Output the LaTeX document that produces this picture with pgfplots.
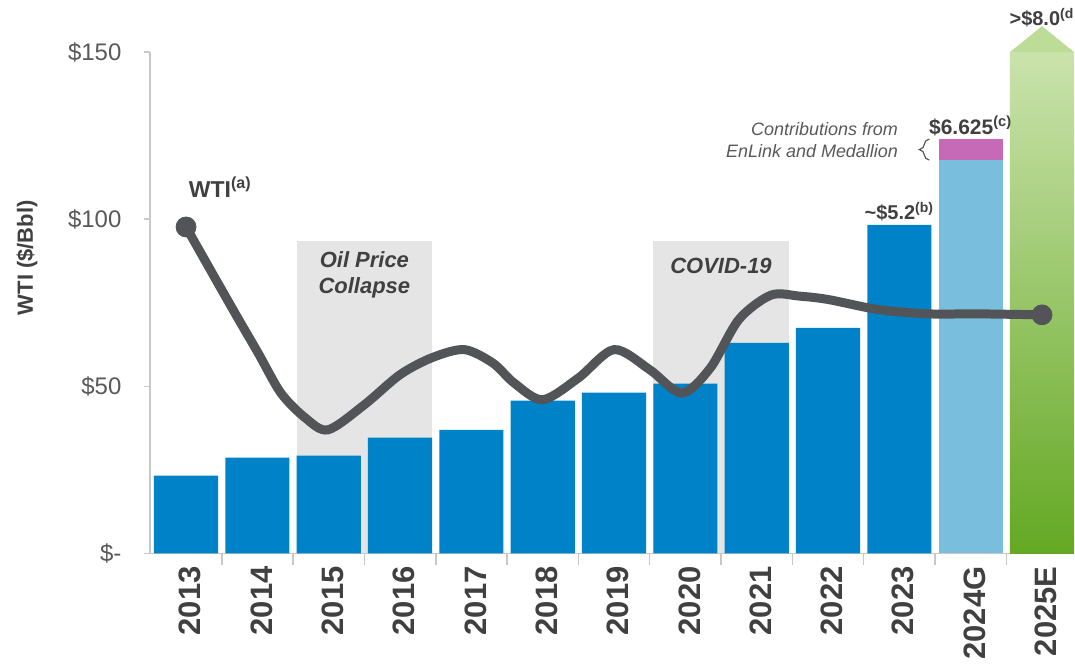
\documentclass[border=0pt]{standalone}
\usepackage{pgfplots}
\pgfplotsset{compat=1.18}
\usepackage{fontspec}
\setmainfont{Liberation Sans}
\usetikzlibrary{decorations.pathreplacing}
\definecolor{wblue}{RGB}{0,130,200}
\definecolor{lblue}{RGB}{122,190,222}
\definecolor{pinkc}{RGB}{198,105,182}
\definecolor{gtop}{RGB}{202,227,172}
\definecolor{gbot}{RGB}{100,168,35}
\definecolor{garrow}{RGB}{188,220,152}
\definecolor{shadegray}{RGB}{229,229,229}
\definecolor{linegray}{RGB}{82,84,88}
\definecolor{darktext}{RGB}{64,64,64}
\definecolor{ticktext}{RGB}{89,89,89}
\definecolor{axisgray}{RGB}{200,200,200}
\begin{document}
\begin{tikzpicture}
\begin{axis}[
  scale only axis, width=462.5pt, height=251pt,
  xmin=-0.5, xmax=12.45, ymin=0, ymax=150,
  clip=false,
  axis x line*=bottom, axis y line*=left,
  axis line style={draw=axisgray, line width=0.9pt},
  tick align=outside,
  xtick={0,...,12},
  xticklabels={2013,2014,2015,2016,2017,2018,2019,2020,2021,2022,2023,2024G,2025E},
  major x tick style={draw=none},
  minor xtick={0.5,1.5,...,11.5},
  minor x tick style={draw=axisgray, line width=0.8pt},
  minor tick length=6pt,
  major tick length=3pt,
  y tick style={draw=axisgray, line width=0.8pt},
  ytick={0,50,100,150},
  yticklabels={\$-,\$50,\$100,\$150},
  yticklabel style={font=\fontsize{12}{14}\selectfont, text=ticktext, xshift=-8pt},
  xticklabel style={rotate=90, anchor=east, font=\fontsize{15.5}{18}\selectfont\bfseries, text=darktext, yshift=-2pt},
  ylabel={WTI (\$/Bbl)},
  every axis y label/.style={at={(axis description cs:-0.1335,0.59)}, anchor=center, rotate=90, font=\fontsize{11}{13}\selectfont\bfseries, text=darktext},
]
% shaded periods
\addplot[fill=shadegray, draw=none] coordinates {(1.55,0) (1.55,93.5) (3.45,93.5) (3.45,0)} --cycle;
\addplot[fill=shadegray, draw=none] coordinates {(6.55,0) (6.55,93.5) (8.45,93.5) (8.45,0)} --cycle;
% bars
\addplot[ybar, bar width=0.9, bar shift=0pt, fill=wblue, draw=none]
  coordinates {(0,23.3) (1,28.7) (2,29.3) (3,34.7) (4,37) (5,45.7) (6,48.1) (7,50.8) (8,63) (9,67.5) (10,98.3)};
\addplot[ybar, bar width=0.9, bar shift=0pt, fill=pinkc, draw=none] coordinates {(11,124)};
\addplot[ybar, bar width=0.9, bar shift=0pt, fill=lblue, draw=none] coordinates {(11,117.7)};
\addplot[ybar, bar width=0.9, bar shift=0pt, top color=gtop, bottom color=gbot, draw=none] coordinates {(12,150)};
\addplot[fill=garrow, draw=none] coordinates {(11.55,150) (12,157.8) (12.45,150)} --cycle;
% WTI line
\addplot[linegray, line width=4.5pt, smooth, line cap=round]
  coordinates {(0,97.7) (0.63,74) (1.01,60) (1.33,48) (1.67,40.6) (1.99,37) (2.5,44.5) (3.0,53.5) (3.45,58.6) (3.9,61) (4.3,57) (4.6,51) (5.0,46) (5.5,52.5) (6.0,61) (6.5,55) (6.95,48) (7.35,55.5) (7.75,70) (8.2,77.3) (8.6,77) (9.0,76) (9.7,73) (10.4,71.7) (11.1,71.7) (12,71.4)};
\addplot[only marks, mark=*, mark size=5pt, color=linegray] coordinates {(0,97.7) (12,71.4)};
% annotations
\node[font=\fontsize{11.5}{13}\selectfont\bfseries, text=darktext] at (axis cs:0.48,109.5) {WTI\textsuperscript{(a)}};
\node[font=\fontsize{11}{13}\selectfont\bfseries\itshape, text=darktext, align=center] at (axis cs:2.5,83.4) {Oil Price\\Collapse};
\node[font=\fontsize{11}{13}\selectfont\bfseries\itshape, text=darktext] at (axis cs:7.5,86) {COVID-19};
\node[font=\fontsize{10}{12}\selectfont\bfseries, text=darktext] at (axis cs:10,102.3) {\textasciitilde\$5.2\textsuperscript{(b)}};
\node[font=\fontsize{10.5}{12}\selectfont\bfseries, text=darktext] at (axis cs:11,127.9) {\$6.625\textsuperscript{(c)}};
\node[font=\fontsize{10}{12}\selectfont\bfseries, text=darktext, anchor=west, inner sep=0pt] at (axis cs:11.54,160.4) {>\$8.0\textsuperscript{(d}};
\node[font=\fontsize{9}{11}\selectfont\itshape, text=ticktext, align=right, anchor=east] at (axis cs:10.08,123.7) {Contributions from\\EnLink and Medallion};
\draw[ticktext, line width=0.6pt, decorate, decoration={brace, amplitude=5pt}] (axis cs:10.42,117.7) -- (axis cs:10.42,124);
\end{axis}
\path ([xshift=-5pt]current bounding box.west);
\path ([yshift=4pt]current bounding box.north);
\end{tikzpicture}
\end{document}
